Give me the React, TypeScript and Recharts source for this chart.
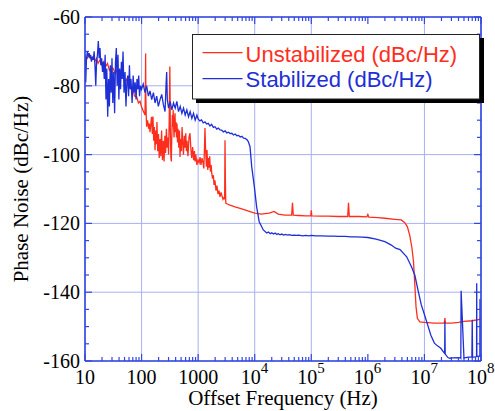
import React from 'react';
import { LineChart, Line, XAxis, YAxis, CartesianGrid } from 'recharts';

// ---------- data ----------
const redFreq = [
  10, 11, 12, 13, 14, 15, 16, 17, 18.4, 20, 21.5, 23, 25, 27, 29, 31.7, 34, 37, 40, 43, 47.5, 51, 55, 59, 62.4, 66, 70, 75, 82, 88, 94, 100, 108, 115, 117, 118, 119, 121,
  123, 128, 133, 137, 141, 145, 150, 155, 159, 164, 168, 173, 178, 183, 187, 193, 199, 205, 212, 219, 226, 234, 242, 250, 258, 266, 275, 284, 293, 300, 308, 313, 316, 319, 323, 330, 336, 341, 350, 356, 362, 368, 375, 383, 390, 398, 406, 414, 423, 432, 441, 455, 468, 478, 490, 505, 520, 535, 550, 570, 586, 605, 620, 636, 660, 690, 718, 745, 770, 800, 830, 860, 880, 910, 950, 995,
  1040, 1080, 1120, 1170, 1220, 1260, 1290, 1320, 1350, 1400, 1435, 1480, 1520, 1555, 1600, 1650, 1700, 1738, 1800, 1860, 1907, 1980, 2070, 2150, 2245, 2340, 2435, 2540, 2640, 2750, 2865, 2940, 2985, 3030, 3080, 3200, 3660, 4480, 5500, 6730, 8000,
  10000, 13000, 18000, 22000, 26000, 34000, 45000, 46500, 48000, 60000, 80000, 98000, 100000, 102000, 150000, 200000, 300000, 440000, 455000, 470000, 700000, 960000, 1000000, 1040000, 1500000, 2000000, 3000000,
  3900000, 4500000, 5000000, 5500000, 6000000, 6400000, 6800000, 7100000, 7500000, 8300000, 10000000, 15000000, 22500000, 23000000, 23500000, 30000000, 40000000, 50000000, 70000000, 100000000,
];
const redDb = [
  -71.5, -72, -71, -72.5, -71.5, -72.8, -72, -73.5, -72.5, -74, -73, -74.5, -73.5, -75.5, -74.5, -75, -76.5, -75.5, -77.5, -76.5, -77.3, -79, -78, -80, -79.3, -81, -80.5, -83, -83.2, -85, -84.5, -86.2, -87.5, -88.5, -80, -70.6, -83, -89,
  -91.9, -90, -92.5, -91, -93.5, -91.5, -89, -94, -88.9, -96, -92, -98.7, -93, -97, -90.5, -99, -94, -101, -95.5, -100.5, -93, -101.6, -96, -102, -94.5, -99.5, -92.5, -98, -95, -100, -90, -80, -74.4, -82, -94, -101, -102, -96, -88.5, -92, -87, -91.5, -95, -90, -88, -93.5, -90.5, -95, -91, -96.5, -92.5, -98, -93, -100.7, -95.5, -99, -92, -96.5, -100, -94.5, -98, -93.8, -99, -96, -100.5, -95, -93.8, -98.5, -101, -97.8, -101.6, -99, -102, -100, -103, -101.6,
  -102.4, -100.7, -103, -101, -102.4, -104, -99, -92.3, -98, -103.5, -98.7, -104.5, -101, -103.8, -100.5, -105, -103, -105.4, -107, -106, -108.8, -107.5, -110.5, -109, -111.5, -110.5, -112.3, -111, -112, -113, -112.5, -113, -95.8, -107, -114.1, -114.3, -114.7, -115.2, -115.6, -116.1, -116.5,
  -117, -117.3, -117, -116.5, -117.3, -117.6, -117.6, -114, -117.6, -117.7, -117.8, -117.8, -116.2, -117.8, -117.9, -117.9, -118, -118, -114, -118, -118, -118.1, -117.4, -118.2, -118.3, -118.5, -118.8,
  -119, -119.8, -121, -123.5, -127, -131, -138.4, -144.2, -147.6, -148.6, -148.8, -149, -149, -147.5, -149, -149, -148.8, -148.5, -148.3, -147.8,
];

const blueFreq = [
  10, 10.3, 10.6, 11, 11.4, 11.8, 12.2, 12.6, 13, 13.5, 14, 14.5, 15, 15.5, 16, 16.6, 17.2, 17.8, 18.4, 19, 19.7, 20.4, 21.1, 21.9, 22.7, 23.5, 24.3, 25.2, 26.1, 27, 28, 29, 30, 31, 32.2, 33.4, 34.6, 35.8, 37, 38.3, 39.7, 41, 42.5, 44, 45.5, 47, 49, 51, 53, 55, 57, 59, 61, 63, 65, 68, 71, 74, 77, 80, 83, 86, 89, 92, 96,
  100, 107, 115, 123, 132, 141, 151, 162, 173, 185, 198, 212, 227, 243, 260, 272, 278, 285, 300, 320, 343, 367, 393, 420, 450, 482, 516, 552, 590, 631, 676, 723, 774, 829, 887, 950,
  1000, 1070, 1150, 1230, 1320, 1410, 1510, 1620, 1730, 1860, 1990, 2130, 2280, 2440, 2610, 2800, 3000, 3210, 3440, 3680, 3940, 4220, 4520, 4840, 5180, 5550, 5940, 6360, 6810, 7300, 7700, 8260, 8850, 9840, 10800, 12000, 14200,
  16300, 17500, 18800, 20000, 21500, 23000, 24500, 26000, 28000, 30000, 32500, 35000, 38000, 41000, 45000, 50000, 55000, 60000, 70000, 80000, 90000, 100000, 120000, 150000, 200000, 250000, 300000, 400000, 500000, 600000, 800000,
  1000000, 1400000, 2000000, 2600000, 3100000, 3700000, 4860000, 5900000, 6760000, 7700000, 8800000, 10000000, 11400000, 13000000, 15000000, 17000000, 19500000, 22000000, 22800000, 23000000, 23300000, 26000000, 28000000, 32000000,
  40000000, 43500000, 44000000, 44500000, 50000000, 60000000, 69000000, 70000000, 71000000, 80000000, 83500000, 84000000, 84500000, 92000000, 95500000, 96000000, 96500000, 100000000,
];
const blueDb = [
  -71, -79, -72.5, -70, -71.5, -70.5, -72, -71, -73, -71.5, -72.5, -70, -74, -80, -73, -71, -67, -72, -69, -74, -72, -76, -73, -78, -71, -84, -75, -89, -78, -86, -74, -82, -72, -85, -76, -88, -73, -69, -80, -71, -84, -75, -81, -73, -78, -70, -82, -76, -86, -79, -77, -83, -74, -81, -78, -85, -77, -82, -79, -84, -78, -81, -77, -83, -80,
  -81, -79.5, -82, -80, -83, -81.5, -84, -82, -85, -83, -86, -84, -82.5, -85.5, -87.5, -79, -76, -84, -86.5, -84.5, -87, -85, -86.5, -84.5, -87.5, -86, -88, -86.5, -88.5, -87, -89, -87.5, -89.5, -88, -90, -88.5,
  -89.6, -90.2, -89.9, -90.8, -90.5, -91.1, -90.9, -91.7, -91.2, -92.1, -91.9, -92.6, -92.3, -92.8, -92.9, -93.4, -93.1, -93.7, -93.5, -93.9, -93.8, -94.3, -94, -94.5, -94.4, -94.9, -94.7, -95.2, -95.3, -95.7, -96.2, -97.7, -103.5, -109.3, -115.1, -119.5, -121.9,
  -122.8, -122.5, -123, -122.7, -123.1, -122.8, -123.2, -123, -123.3, -123.1, -123.4, -123.2, -123.4, -123.3, -123.5, -123.4, -123.5, -123.4, -123.6, -123.5, -123.6, -123.5, -123.6, -123.6, -123.7, -123.7, -123.8, -123.8, -123.9, -123.9, -124,
  -124.1, -124.6, -125.3, -126.3, -127.2, -127.6, -129.7, -132.6, -135, -139.4, -143.7, -146.5, -149.5, -152.5, -154.8, -155.6, -156.3, -157.5, -157.8, -148.6, -158, -159, -159.2, -159.1,
  -159, -159.1, -159.2, -139.6, -159.1, -158.9, -158.9, -148, -158.9, -158.8, -158.7, -137.4, -158.7, -158.6, -158.6, -142, -158.6, -158.5,
];

const seriesNames = ['Unstabilized (dBc/Hz)', 'Stabilized (dBc/Hz)'];

const xMajorTicks = [10, 100, 1000, 10000, 100000, 1000000, 10000000, 100000000];
const xTickBase = ['10', '100', '1000', '10', '10', '10', '10', '10'];
const xTickExp = ['', '', '', '4', '5', '6', '7', '8'];
const xGridTicks = [100, 1000, 10000, 100000, 1000000, 10000000];
const yMajorTicks = [-160, -140, -120, -100, -80, -60];
const yTickLabels = ['-160', '-140', '-120', '-100', '-80', '-60'];
const yMinorTicks = [-155, -150, -145, -135, -130, -125, -115, -110, -105, -95, -90, -85, -75, -70, -65];
const yGridTicks = [-140, -120, -100, -80];
const minorMultipliers = [2, 3, 4, 5, 6, 7, 8, 9];

// ---------- derived ----------
const redData = redFreq.map((f, i) => ({ f, v: redDb[i] }));
const blueData = blueFreq.map((f, i) => ({ f, v: blueDb[i] }));
const xMinorTicks: number[] = [];
xMajorTicks.slice(0, -1).forEach((d) => minorMultipliers.forEach((m) => xMinorTicks.push(d * m)));
const xAllTicks = [...xMajorTicks, ...xMinorTicks].sort((a, b) => a - b);
const yAllTicks = [...yMajorTicks, ...yMinorTicks].sort((a, b) => a - b);

// ---------- styles ----------
const RED = '#ff2e1c';
const BLUE = '#1e2fd6';
const SERIES_COLORS = [RED, BLUE];
const AXIS = '#3346e0';
const GRID = '#a9b0f2';
const SERIF = '"Liberation Serif", "Times New Roman", Times, serif';
const SANS = '"Liberation Sans", Arial, Helvetica, sans-serif';
const W = 495;
const H = 411;

const majorIdx = (v: number, list: number[]) => list.findIndex((t) => Math.abs(t - v) < 1e-6 * Math.abs(t || 1));

const BottomTick = (props: any) => {
  const { x, y, payload } = props;
  const i = majorIdx(payload.value, xMajorTicks);
  const len = i >= 0 ? 7 : 4;
  const hasExp = i >= 0 && xTickExp[i] !== '';
  return (
    <g>
      <line x1={x} x2={x} y1={y} y2={y - len} stroke={AXIS} strokeWidth={1.2} />
      {i >= 0 && (
        <g fontFamily={SERIF} fill="#000">
          <text x={hasExp ? x - 4 : x} y={y + 23} fontSize={20} textAnchor="middle">{xTickBase[i]}</text>
          {hasExp && (
            <text x={x + 6} y={y + 12} fontSize={15} textAnchor="start">{xTickExp[i]}</text>
          )}
        </g>
      )}
    </g>
  );
};

const TopTick = (props: any) => {
  const { x, y, payload } = props;
  const i = majorIdx(payload.value, xMajorTicks);
  const len = i >= 0 ? 7 : 4;
  return <line x1={x} x2={x} y1={y} y2={y + len} stroke={AXIS} strokeWidth={1.2} />;
};

const LeftTick = (props: any) => {
  const { x, y, payload } = props;
  const i = majorIdx(payload.value, yMajorTicks);
  const len = i >= 0 ? 7 : 4;
  return (
    <g>
      <line x1={x} x2={x + len} y1={y} y2={y} stroke={AXIS} strokeWidth={1.2} />
      {i >= 0 && (
        <text x={x - 5} y={y + 7} fontSize={20} fontFamily={SERIF} fill="#000" textAnchor="end">
          {yTickLabels[i]}
        </text>
      )}
    </g>
  );
};

const RightTick = (props: any) => {
  const { x, y, payload } = props;
  const i = majorIdx(payload.value, yMajorTicks);
  const len = i >= 0 ? 7 : 4;
  return <line x1={x} x2={x - len} y1={y} y2={y} stroke={AXIS} strokeWidth={1.2} />;
};

export default function App() {
  return (
    <div style={{ position: 'absolute', left: 0, top: 0, width: W, height: H, background: '#fff' }}>
      <LineChart width={W} height={H} margin={{ top: 16, right: 13, bottom: 49, left: 84 }}>
        <XAxis xAxisId="g" type="number" dataKey="f" scale="log" domain={[10, 1e8]} allowDataOverflow ticks={xGridTicks} height={0} hide />
        <YAxis yAxisId="g" type="number" domain={[-160, -60]} allowDataOverflow ticks={yGridTicks} width={0} hide />
        <CartesianGrid xAxisId="g" yAxisId="g" stroke={GRID} strokeWidth={1} />
        <Line
          xAxisId="b"
          yAxisId="l"
          data={redData}
          dataKey="v"
          name={seriesNames[0]}
          stroke={RED}
          strokeWidth={1.3}
          dot={false}
          isAnimationActive={false}
          type="linear"
        />
        <Line
          xAxisId="b"
          yAxisId="l"
          data={blueData}
          dataKey="v"
          name={seriesNames[1]}
          stroke={BLUE}
          strokeWidth={1.3}
          dot={false}
          isAnimationActive={false}
          type="linear"
        />
        <XAxis
          xAxisId="b"
          orientation="bottom"
          type="number"
          dataKey="f"
          scale="log"
          domain={[10, 1e8]}
          allowDataOverflow
          ticks={xAllTicks}
          interval={0}
          height={1}
          tickSize={0}
          tickMargin={0}
          tickLine={false}
          tick={<BottomTick />}
          axisLine={{ stroke: AXIS, strokeWidth: 1.6 }}
        />
        <XAxis
          xAxisId="t"
          orientation="top"
          type="number"
          dataKey="f"
          scale="log"
          domain={[10, 1e8]}
          allowDataOverflow
          ticks={xAllTicks}
          interval={0}
          height={1}
          tickSize={0}
          tickMargin={0}
          tickLine={false}
          tick={<TopTick />}
          axisLine={{ stroke: AXIS, strokeWidth: 1.6 }}
        />
        <YAxis
          yAxisId="l"
          orientation="left"
          type="number"
          domain={[-160, -60]}
          allowDataOverflow
          ticks={yAllTicks}
          interval={0}
          width={1}
          tickSize={0}
          tickMargin={0}
          tickLine={false}
          tick={<LeftTick />}
          axisLine={{ stroke: AXIS, strokeWidth: 1.6 }}
        />
        <YAxis
          yAxisId="r"
          orientation="right"
          type="number"
          domain={[-160, -60]}
          allowDataOverflow
          ticks={yAllTicks}
          interval={0}
          width={1}
          tickSize={0}
          tickMargin={0}
          tickLine={false}
          tick={<RightTick />}
          axisLine={{ stroke: AXIS, strokeWidth: 1.6 }}
        />
      </LineChart>
      <svg width={W} height={H} style={{ position: 'absolute', left: 0, top: 0, pointerEvents: 'none' }}>
        <g transform="translate(192,34)">
          <rect x={4} y={4} width={288} height={65} fill="#000" />
          <rect x={0.5} y={0.5} width={287} height={64.5} fill="#fff" stroke="#222" strokeWidth={1} />
          {seriesNames.map((name, k) => (
            <g key={name}>
              <line x1={10.5} x2={50.5} y1={18.7 + k * 26} y2={18.7 + k * 26} stroke={SERIES_COLORS[k]} strokeWidth={1.2} />
              <text x={53.6} y={28 + k * 25} fontFamily={SANS} fontSize={22} fill={SERIES_COLORS[k]}>
                {name}
              </text>
            </g>
          ))}
        </g>
        <text x={283} y={405} textAnchor="middle" fontFamily={SERIF} fontSize={21} fill="#000">
          Offset Frequency (Hz)
        </text>
        <text transform="translate(28,189) rotate(-90)" textAnchor="middle" fontFamily={SERIF} fontSize={21} fill="#000">
          Phase Noise (dBc/Hz)
        </text>
      </svg>
    </div>
  );
}
